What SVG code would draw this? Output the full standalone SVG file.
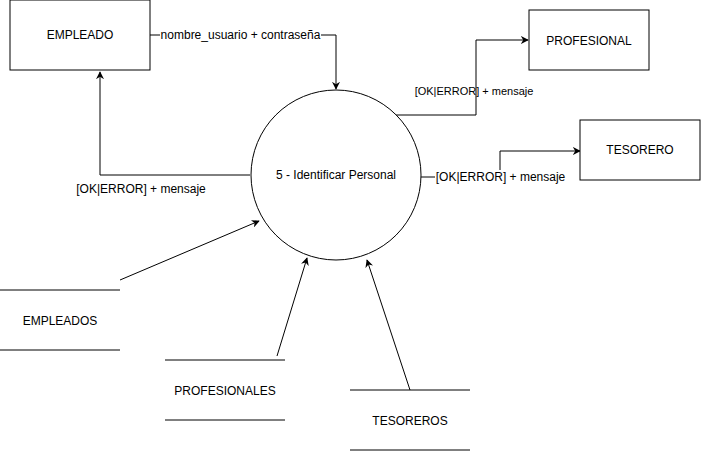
<svg xmlns="http://www.w3.org/2000/svg" width="701" height="451" viewBox="0 0 701 451">
<style>
.box{fill:#fff;stroke:#000;stroke-width:1}
.ln{fill:none;stroke:#000;stroke-width:1}
text{font-family:"Liberation Sans",Arial,sans-serif;font-size:12px;fill:#000;text-anchor:middle;dominant-baseline:central}
.s{font-size:11px}
.bg{fill:#fff}
</style>
<defs>
<marker id="ar" viewBox="0 0 10 10" refX="9" refY="5" markerWidth="8" markerHeight="8" orient="auto" markerUnits="userSpaceOnUse">
<path d="M0,0 L10,5 L0,10 L3,5 Z" fill="#000"/>
</marker>
</defs>
<rect width="701" height="451" fill="#fff"/>
<g id="connectors">
<path class="ln" d="M150,35 H336 V89" marker-end="url(#ar)"/>
<path class="ln" d="M250,175 H100 V72" marker-end="url(#ar)"/>
<path class="ln" d="M396,115 H476 V40 H528" marker-end="url(#ar)"/>
<path class="ln" d="M421,177 H500 V151 H580" marker-end="url(#ar)"/>
<path class="ln" d="M120,280 L259,221" marker-end="url(#ar)"/>
<path class="ln" d="M277,356 L307,258" marker-end="url(#ar)"/>
<path class="ln" d="M410,390 L367,260" marker-end="url(#ar)"/>
<rect class="bg" x="160" y="28" width="161" height="14"/>
<text x="240.5" y="35">nombre_usuario + contraseña</text>
<text x="141" y="189">[OK|ERROR] + mensaje</text>
<text class="s" x="474" y="91">[OK|ERROR] + mensaje</text>
<rect class="bg" x="435" y="170" width="131" height="14"/>
<text x="500.5" y="177">[OK|ERROR] + mensaje</text>
</g>
<g id="empleado"><rect class="box" x="10" y="0" width="140" height="70"/><text x="80" y="35">EMPLEADO</text></g>
<g id="proceso"><circle class="box" cx="336" cy="175" r="85"/><text x="336" y="175">5 - Identificar Personal</text></g>
<g id="profesional"><rect class="box" x="529" y="10" width="120" height="60"/><text x="589" y="41">PROFESIONAL</text></g>
<g id="tesorero"><rect class="box" x="580" y="120" width="120" height="60"/><text x="640" y="150">TESORERO</text></g>
<g id="empleados"><path class="ln" d="M0,290 H120 M0,350 H120"/><text x="60" y="321">EMPLEADOS</text></g>
<g id="profesionales"><path class="ln" d="M165,360 H285 M165,420 H285"/><text x="225" y="391">PROFESIONALES</text></g>
<g id="tesoreros"><path class="ln" d="M350,390 H470 M350,450 H470"/><text x="410" y="421">TESOREROS</text></g>
</svg>
